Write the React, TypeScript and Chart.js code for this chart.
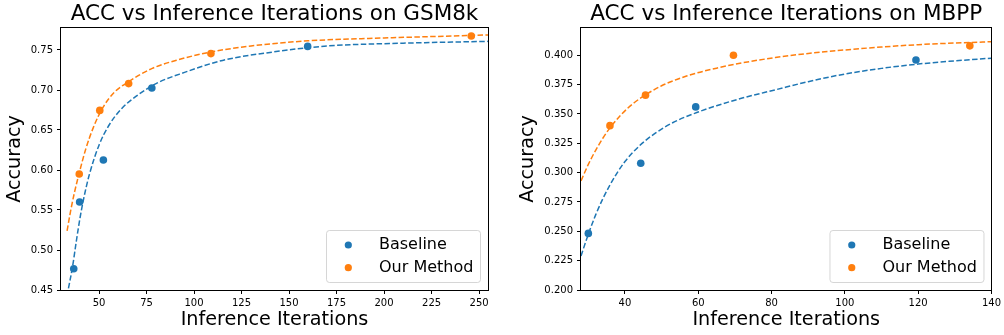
import React, { useEffect, useRef } from 'react';
import { Chart, registerables } from 'chart.js';

Chart.register(...registerables);

const FONT = "'DejaVu Sans', sans-serif";
const BLUE = '#1f77b4';
const ORANGE = '#ff7f0e';

const seriesNames = ['Baseline', 'Our Method'];
const xAxisLabel = 'Inference Iterations';
const yAxisLabel = 'Accuracy';

// ---------- GSM8k ----------
const gsmTitle = 'ACC vs Inference Iterations on GSM8k';
const gsmBaseX = [36.7, 39.8, 52.3, 77.8, 159.8];
const gsmBaseY = [0.4765, 0.56, 0.6125, 0.7025, 0.7545];
const gsmOursX = [39.6, 50.4, 65.6, 108.9, 245.9];
const gsmOursY = [0.595, 0.6745, 0.708, 0.7455, 0.7675];
const gsmFitBaseX = [33.2, 34, 36, 38, 40, 42, 45, 50, 55, 62, 70, 80, 95, 115, 140, 170, 210, 255];
const gsmFitBaseY = [0.4424, 0.453, 0.478, 0.51, 0.54, 0.565, 0.595, 0.631, 0.655, 0.677, 0.693, 0.708, 0.722, 0.737, 0.747, 0.755, 0.7585, 0.7608];
const gsmFitOursX = [33.2, 35, 37, 40, 43, 47, 52, 58, 66, 78, 92, 110, 130, 160, 200, 255];
const gsmFitOursY = [0.524, 0.548, 0.571, 0.6, 0.626, 0.653, 0.678, 0.697, 0.711, 0.727, 0.738, 0.748, 0.755, 0.7615, 0.765, 0.7688];
const gsmXTicks = [50, 75, 100, 125, 150, 175, 200, 225, 250];
const gsmYTicks = [0.45, 0.5, 0.55, 0.6, 0.65, 0.7, 0.75];

// ---------- MBPP ----------
const mbppTitle = 'ACC vs Inference Iterations on MBPP';
const mbppBaseX = [30.0, 44.3, 59.3, 119.4];
const mbppBaseY = [0.2482, 0.308, 0.356, 0.396];
const mbppOursX = [35.9, 45.6, 69.6, 134.1];
const mbppOursY = [0.34, 0.366, 0.4, 0.408];
const mbppFitBaseX = [28, 30, 32, 34, 36, 38, 40, 44, 48, 53, 59, 65, 72, 81, 90, 100, 110, 120, 130, 140];
const mbppFitBaseY = [0.229, 0.2475, 0.264, 0.278, 0.29, 0.3005, 0.3095, 0.323, 0.333, 0.3425, 0.3505, 0.357, 0.3635, 0.3705, 0.3775, 0.384, 0.3888, 0.3925, 0.3952, 0.3975];
const mbppFitOursX = [28, 30, 32, 34, 36, 39, 42.5, 46, 50, 57, 65, 72, 81, 90, 100, 110, 120, 130, 140];
const mbppFitOursY = [0.293, 0.307, 0.319, 0.3295, 0.3385, 0.3495, 0.3595, 0.367, 0.374, 0.3825, 0.389, 0.3935, 0.398, 0.4015, 0.4045, 0.407, 0.409, 0.4104, 0.4115];
const mbppXTicks = [40, 60, 80, 100, 120, 140];
const mbppYTicks = [0.2, 0.225, 0.25, 0.275, 0.3, 0.325, 0.35, 0.375, 0.4];

const gsmPanel = {
  title: gsmTitle,
  xMin: 30, xMax: 254.7, yMin: 0.45, yMax: 0.7775,
  xTicks: gsmXTicks, yTicks: gsmYTicks, yDecimals: 2,
  baseX: gsmBaseX, baseY: gsmBaseY, oursX: gsmOursX, oursY: gsmOursY,
  fitBaseX: gsmFitBaseX, fitBaseY: gsmFitBaseY, fitOursX: gsmFitOursX, fitOursY: gsmFitOursY,
  yAxisWidth: 61, ylabelPad: 3, rightPad: 12,
};

const mbppPanel = {
  title: mbppTitle,
  xMin: 28, xMax: 140, yMin: 0.2, yMax: 0.4232,
  xTicks: mbppXTicks, yTicks: mbppYTicks, yDecimals: 3,
  baseX: mbppBaseX, baseY: mbppBaseY, oursX: mbppOursX, oursY: mbppOursY,
  fitBaseX: mbppFitBaseX, fitBaseY: mbppFitBaseY, fitOursX: mbppFitOursX, fitOursY: mbppFitOursY,
  yAxisWidth: 81, ylabelPad: 16.5, rightPad: 11,
};

const framePlugin = {
  id: 'frame',
  afterDatasetsDraw(chart: any) {
    const { ctx, chartArea: a } = chart;
    ctx.save();
    ctx.strokeStyle = '#000';
    ctx.lineWidth = 1;
    ctx.strokeRect(Math.round(a.left) - 0.5, Math.round(a.top) - 0.5, Math.round(a.right - a.left) + 1, Math.round(a.bottom - a.top) + 1);
    ctx.restore();
  },
};

const legendBoxPlugin = {
  id: 'legendBox',
  afterDraw(chart: any) {
    const { ctx, chartArea: a } = chart;
    const w = 154;
    const h = 52;
    const x0 = a.right - 8 - w;
    const y0 = a.bottom - 8 - h;
    ctx.save();
    ctx.globalAlpha = 0.8;
    ctx.fillStyle = '#ffffff';
    ctx.strokeStyle = '#cccccc';
    ctx.lineWidth = 1;
    ctx.beginPath();
    (ctx as any).roundRect(x0 + 0.5, y0 + 0.5, w, h, 3);
    ctx.fill();
    ctx.stroke();
    ctx.globalAlpha = 1;
    const rows = [y0 + 15, y0 + 37.7];
    for (let i = 0; i < 2; i++) {
      const ds = chart.data.datasets[i];
      ctx.fillStyle = ds.backgroundColor;
      ctx.beginPath();
      ctx.arc(x0 + 22.3, rows[i], 3.6, 0, Math.PI * 2);
      ctx.fill();
      ctx.fillStyle = '#000';
      ctx.font = `16px ${FONT}`;
      ctx.textAlign = 'left';
      ctx.textBaseline = 'middle';
      ctx.fillText(ds.label, x0 + 53, rows[i]);
    }
    ctx.restore();
  },
};

function buildChart(canvas: HTMLCanvasElement, p: any) {
  const pts = (xs: number[], ys: number[]) => xs.map((x, i) => ({ x, y: ys[i] }));
  const scatterDs = (label: string, xs: number[], ys: number[], color: string) => ({
    label,
    data: pts(xs, ys),
    backgroundColor: color,
    borderColor: color,
    pointRadius: 3.8,
    pointBorderWidth: 0,
    pointHoverRadius: 3.8,
    showLine: false,
  });
  const fitDs = (label: string, xs: number[], ys: number[], color: string) => ({
    label,
    data: pts(xs, ys),
    showLine: true,
    borderColor: color,
    backgroundColor: color,
    borderWidth: 1.5,
    borderDash: [5.5, 2.4],
    pointRadius: 0,
    pointHoverRadius: 0,
    cubicInterpolationMode: 'monotone',
    fill: false,
  });
  const tickFont = { family: FONT, size: 10 };
  const axisTitleFont = { family: FONT, size: 19.2, lineHeight: 1.2 };
  return new Chart(canvas, {
    type: 'scatter',
    data: {
      datasets: [
        scatterDs(seriesNames[0], p.baseX, p.baseY, BLUE),
        scatterDs(seriesNames[1], p.oursX, p.oursY, ORANGE),
        fitDs(seriesNames[0] + ' fit', p.fitBaseX, p.fitBaseY, BLUE),
        fitDs(seriesNames[1] + ' fit', p.fitOursX, p.fitOursY, ORANGE),
      ] as any,
    },
    options: {
      responsive: false,
      animation: false,
      devicePixelRatio: 1,
      events: [],
      layout: { padding: { left: 0, right: p.rightPad, top: 0, bottom: 0 } },
      plugins: {
        legend: { display: false },
        tooltip: { enabled: false },
        title: {
          display: true,
          text: p.title,
          fullSize: false,
          color: '#000',
          font: { family: FONT, size: 21.5, weight: 'normal', lineHeight: 1.2 },
          padding: { top: 1.4, bottom: 0.8 },
        },
      },
      scales: {
        x: {
          type: 'linear',
          min: p.xMin,
          max: p.xMax,
          afterBuildTicks: (s: any) => { s.ticks = p.xTicks.map((v: number) => ({ value: v })); },
          afterFit: (s: any) => { s.height = 45; },
          grid: { display: true, drawOnChartArea: false, drawTicks: true, tickLength: 4, lineWidth: 1, color: '#000', tickColor: '#000' },
          border: { display: false },
          ticks: { color: '#000', font: tickFont, padding: 3, maxRotation: 0, autoSkip: false, callback: (v: any) => String(v) },
          title: { display: true, text: xAxisLabel, color: '#000', font: axisTitleFont, padding: { top: 0, bottom: 3 } },
        },
        y: {
          type: 'linear',
          min: p.yMin,
          max: p.yMax,
          afterBuildTicks: (s: any) => { s.ticks = p.yTicks.map((v: number) => ({ value: v })); },
          afterFit: (s: any) => { s.width = p.yAxisWidth; },
          grid: { display: true, drawOnChartArea: false, drawTicks: true, tickLength: 4, lineWidth: 1, color: '#000', tickColor: '#000' },
          border: { display: false },
          ticks: { color: '#000', font: tickFont, padding: 4, autoSkip: false, callback: (v: any) => Number(v).toFixed(p.yDecimals) },
          title: { display: true, text: yAxisLabel, color: '#000', font: axisTitleFont, padding: { top: p.ylabelPad, bottom: 0 } },
        },
      },
    } as any,
    plugins: [framePlugin, legendBoxPlugin],
  });
}

export default function App() {
  const leftRef = useRef<HTMLCanvasElement>(null);
  const rightRef = useRef<HTMLCanvasElement>(null);
  useEffect(() => {
    const c1 = buildChart(leftRef.current as HTMLCanvasElement, gsmPanel);
    const c2 = buildChart(rightRef.current as HTMLCanvasElement, mbppPanel);
    return () => {
      c1.destroy();
      c2.destroy();
    };
  }, []);
  return (
    <div style={{ position: 'fixed', left: 0, top: 0, width: 1004, height: 335, background: '#fff' }}>
      <canvas ref={leftRef} width={500} height={335} style={{ position: 'absolute', left: 0, top: 0 }} />
      <canvas ref={rightRef} width={504} height={335} style={{ position: 'absolute', left: 500, top: 0 }} />
    </div>
  );
}
